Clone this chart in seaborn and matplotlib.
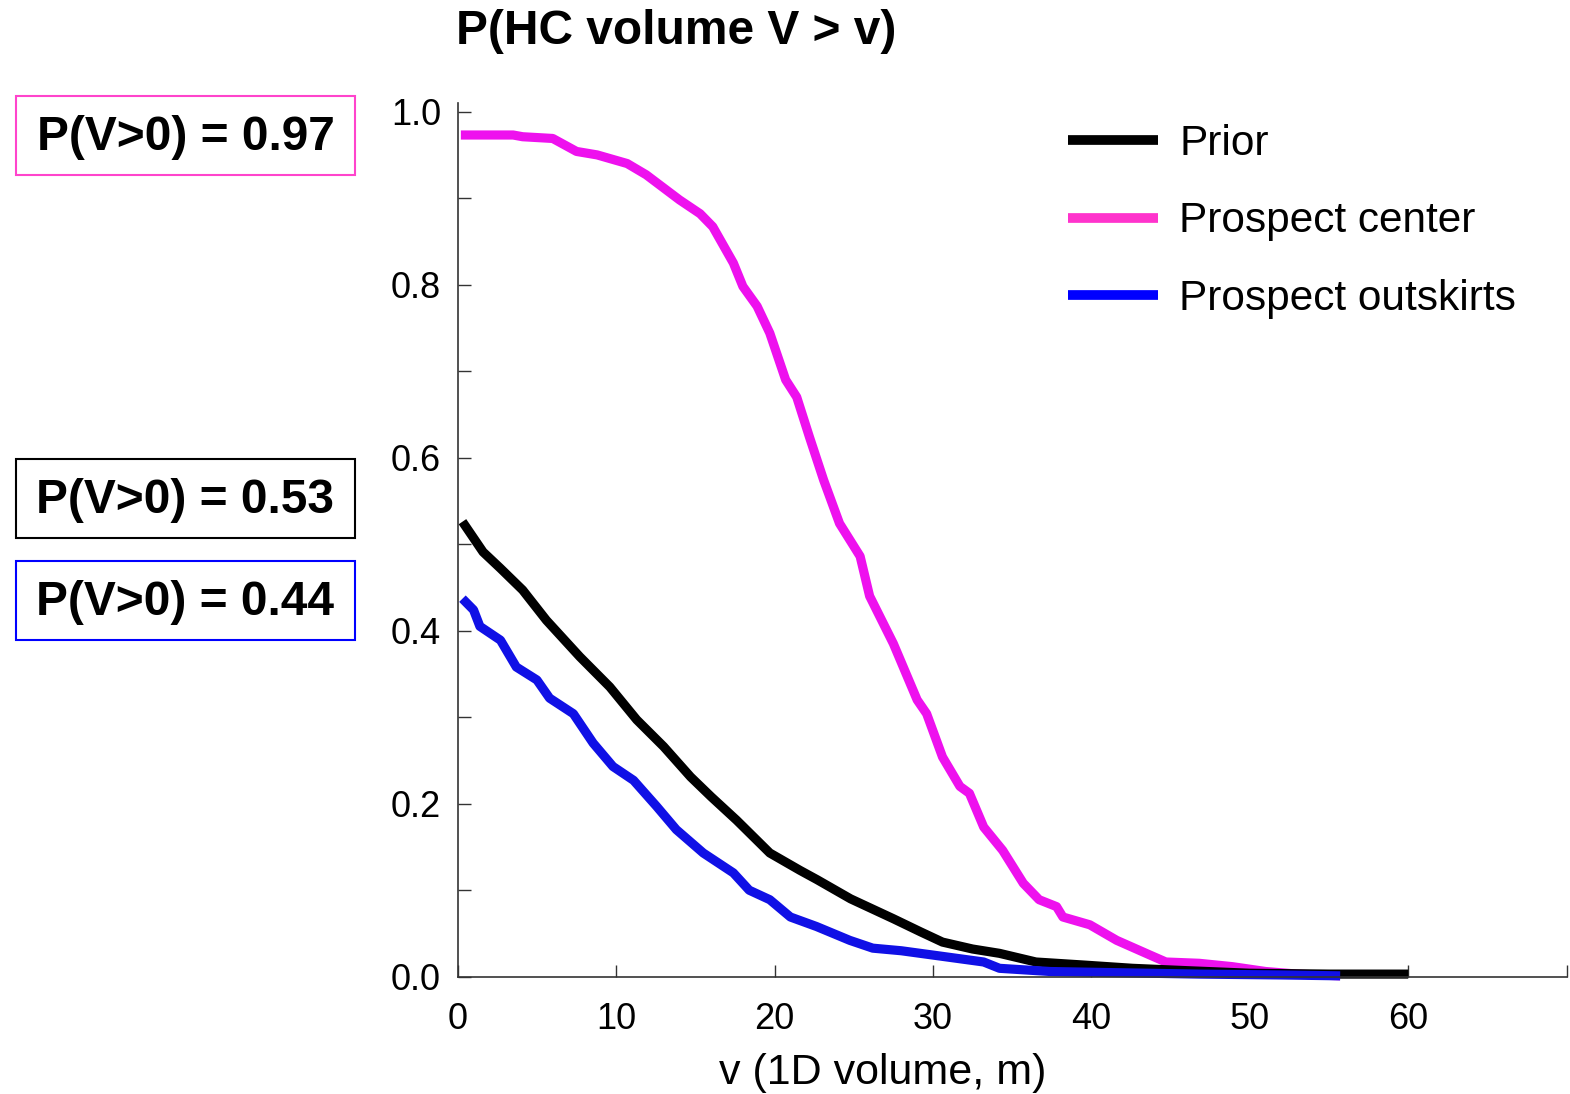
import numpy as np
import pandas as pd
import matplotlib
matplotlib.use("Agg")
import matplotlib.pyplot as plt
from matplotlib.lines import Line2D
from matplotlib.patches import Rectangle
from matplotlib.ticker import MultipleLocator
import seaborn as sns

# Exceedance curves P(V > v) for the three cases
prior_v = [0.3, 1.6, 2.7, 4.1, 5.6, 7.7, 9.6, 11.3, 13.0, 14.7, 16.0, 17.6, 19.7,
           21.6, 22.7, 24.8, 27.5, 29.2, 30.6, 32.5, 34.2, 36.5, 39.5, 42.6, 46.0,
           50.0, 55.0, 60.0]
prior_p = [0.526, 0.491, 0.472, 0.447, 0.412, 0.370, 0.335, 0.297, 0.266, 0.231,
           0.208, 0.181, 0.143, 0.123, 0.112, 0.090, 0.067, 0.052, 0.040, 0.032,
           0.027, 0.017, 0.0135, 0.0097, 0.007, 0.004, 0.003, 0.003]

center_v = [0.2, 2.0, 3.5, 4.1, 6.0, 7.5, 8.8, 10.7, 11.9, 14.0, 15.3, 16.1, 17.4,
            18.0, 18.9, 19.7, 20.7, 21.4, 22.2, 23.1, 24.1, 25.4, 26.0, 27.5, 29.0,
            29.6, 30.6, 31.7, 32.3, 33.2, 34.4, 35.7, 36.7, 37.8, 38.2, 39.9, 41.6,
            43.7, 44.7, 46.8, 48.9, 51.0, 53.0, 55.7]
center_p = [0.973, 0.973, 0.973, 0.971, 0.969, 0.954, 0.950, 0.940, 0.927, 0.898,
            0.882, 0.867, 0.825, 0.798, 0.775, 0.744, 0.690, 0.670, 0.624, 0.574,
            0.524, 0.486, 0.440, 0.385, 0.320, 0.304, 0.254, 0.220, 0.212, 0.173,
            0.146, 0.108, 0.089, 0.081, 0.069, 0.060, 0.042, 0.025, 0.017, 0.0155,
            0.0116, 0.006, 0.003, 0.001]

outskirts_v = [0.3, 1.0, 1.4, 2.7, 3.7, 5.0, 5.8, 7.3, 8.55, 9.8, 11.1, 12.55, 13.8,
               15.5, 17.4, 18.4, 19.7, 21.0, 22.65, 24.75, 26.2, 28.0, 30.0, 33.2,
               34.2, 37.4, 40.5, 46.8, 52.0, 55.7]
outskirts_p = [0.437, 0.424, 0.405, 0.389, 0.358, 0.343, 0.322, 0.304, 0.270, 0.243,
               0.227, 0.197, 0.170, 0.143, 0.120, 0.100, 0.089, 0.069, 0.058, 0.042,
               0.033, 0.030, 0.025, 0.017, 0.0097, 0.006, 0.005, 0.003, 0.002, 0.001]

series_names = ["Prospect center", "Prior", "Prospect outskirts"]
line_colors = {"Prior": "#000000", "Prospect center": "#EE11EE", "Prospect outskirts": "#1010E6"}
legend_colors = {"Prior": "#000000", "Prospect center": "#FF33CC", "Prospect outskirts": "#0000FF"}
legend_order = ["Prior", "Prospect center", "Prospect outskirts"]

p_positive_labels = ["P(V>0) = 0.97", "P(V>0) = 0.53", "P(V>0) = 0.44"]
p_positive_edges = ["#FF44CC", "#000000", "#0000FF"]

xticks = [0, 10, 20, 30, 40, 50, 60, 70]
xtick_labels = ["0", "10", "20", "30", "40", "50", "60", ""]
yticks = [0.0, 0.2, 0.4, 0.6, 0.8, 1.0]
ytick_labels = ["0.0", "0.2", "0.4", "0.6", "0.8", "1.0"]

frames = []
for name, vv, pp in [("Prospect center", center_v, center_p),
                     ("Prior", prior_v, prior_p),
                     ("Prospect outskirts", outskirts_v, outskirts_p)]:
    frames.append(pd.DataFrame({"v": vv, "p": pp, "case": name}))
df = pd.concat(frames, ignore_index=True)

sns.set_theme(style="white")
plt.rcParams["font.family"] = ["Liberation Sans", "DejaVu Sans"]
plt.rcParams["text.color"] = "black"
plt.rcParams["axes.labelcolor"] = "black"

W, H = 1570, 1094
fig = plt.figure(figsize=(W / 100, H / 100), dpi=100)
ax = fig.add_axes([457.7 / W, 1 - 976.7 / H, (1566.7 - 457.7) / W, (976.7 - 103) / H])

sns.lineplot(data=df, x="v", y="p", hue="case", hue_order=series_names,
             palette=line_colors, estimator=None, sort=False, linewidth=6.6,
             legend=False, ax=ax)
for ln in ax.lines:
    ln.set_solid_capstyle("butt")
    ln.set_solid_joinstyle("round")
    ln.set_clip_on(False)

ax.set_xlim(0, 70)
ax.set_ylim(0, 1.01)
ax.set_xticks(xticks)
ax.set_xticklabels(xtick_labels)
ax.set_yticks(yticks)
ax.set_yticklabels(ytick_labels)
ax.yaxis.set_minor_locator(MultipleLocator(0.1))
ax.tick_params(axis="both", which="both", direction="in", length=9, width=1.0,
               color="#333333", labelsize=26, labelcolor="black")
ax.tick_params(axis="y", which="both", left=True, pad=12)
ax.tick_params(axis="x", which="both", bottom=True, pad=18)
for side in ["top", "right"]:
    ax.spines[side].set_visible(False)
for side in ["left", "bottom"]:
    ax.spines[side].set_color("#333333")
    ax.spines[side].set_linewidth(1.2)

ax.set_xlabel("v (1D volume, m)", fontsize=31, color="black")
ax.xaxis.label.set_va("center")
ax.xaxis.set_label_coords((883 - 457.7) / (1566.7 - 457.7), -(1073 - 976.7) / (976.7 - 103))
ax.set_ylabel("")

fig.text(676 / W, 1 - 32 / H, "P(HC volume V > v)", fontsize=34.5, fontweight="bold",
         ha="center", va="center", color="black")

handles = [Line2D([0], [0], color=legend_colors[n], linewidth=7.0, solid_capstyle="butt")
           for n in legend_order]
ax.legend(handles, legend_order, loc="upper left",
          bbox_to_anchor=((1030 - 457.7) / (1566.7 - 457.7), 1.02),
          frameon=False, fontsize=30.5, handlelength=2.12, handletextpad=0.5,
          labelspacing=0.89)

# Boxed annotations of P(V>0) for each case
box_tops = [96, 459, 561]
for label, edge, top in zip(p_positive_labels, p_positive_edges, box_tops):
    x0, x1 = 16, 355
    y0, y1 = top, top + 79
    fig.patches.append(Rectangle((x0 / W, 1 - y1 / H), (x1 - x0) / W, (y1 - y0) / H,
                                 transform=fig.transFigure, fill=False,
                                 edgecolor=edge, linewidth=1.5))
    fig.text((x0 + x1) / 2 / W, 1 - ((y0 + y1) / 2 + 2) / H, label, fontsize=34.5,
             fontweight="bold", ha="center", va="center", color="black")

fig.savefig("out.png", dpi=100, facecolor="white")
